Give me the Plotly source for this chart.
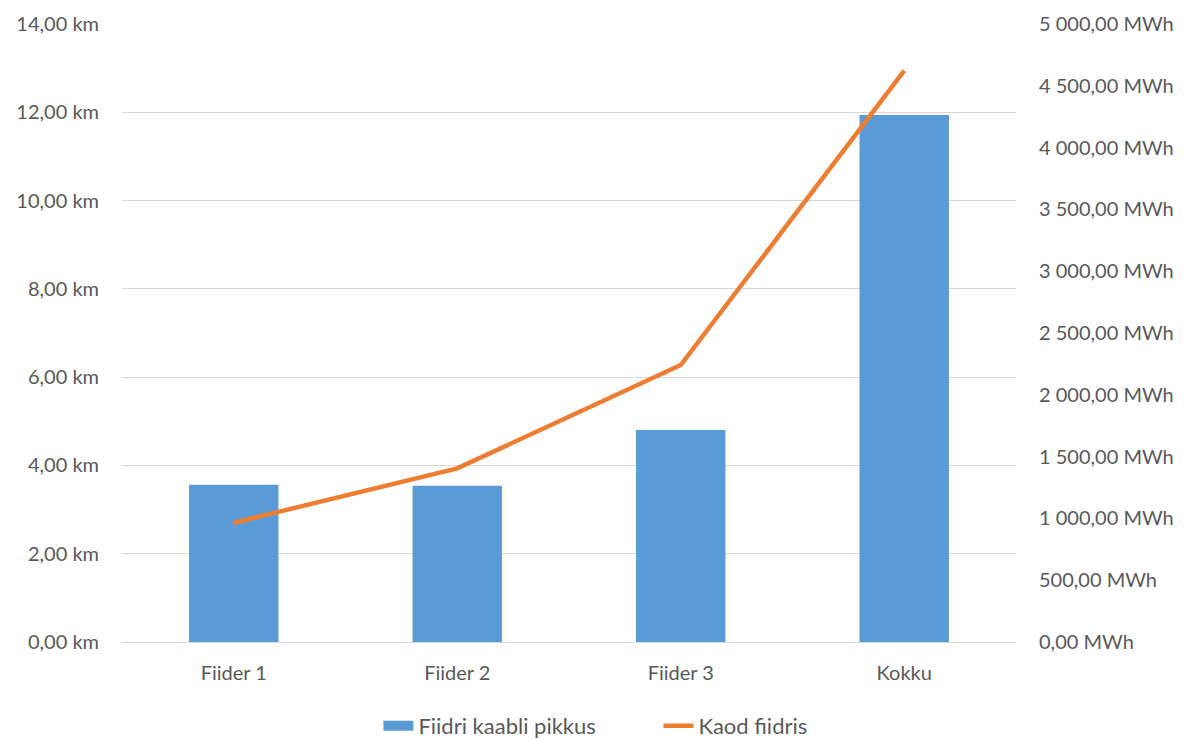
import plotly.graph_objects as go

categories = ["Fiider 1", "Fiider 2", "Fiider 3", "Kokku"]
cable_km = [3.56, 3.54, 4.80, 11.94]
losses_mwh = [965, 1405, 2241, 4622]

left_ticks = [0, 2, 4, 6, 8, 10, 12, 14]
left_labels = ["0,00 km", "2,00 km", "4,00 km", "6,00 km", "8,00 km", "10,00 km", "12,00 km", "14,00 km"]
right_ticks = [0, 500, 1000, 1500, 2000, 2500, 3000, 3500, 4000, 4500, 5000]
right_labels = ["0,00 MWh", "500,00 MWh", "1 000,00 MWh", "1 500,00 MWh", "2 000,00 MWh",
                "2 500,00 MWh", "3 000,00 MWh", "3 500,00 MWh", "4 000,00 MWh",
                "4 500,00 MWh", "5 000,00 MWh"]

font_family = "Lato, 'Open Sans', sans-serif"
gray = "#595959"
fs = 20

fig = go.Figure()
fig.add_trace(go.Bar(
    x=categories, y=cable_km, name="Fiidri kaabli pikkus",
    marker=dict(color="#5B9BD5", line=dict(width=0)),
    yaxis="y", showlegend=False,
))
# legend proxy (wide rectangle symbol as in the reference)
fig.add_trace(go.Scatter(
    x=[None], y=[None], name="Fiidri kaabli pikkus", mode="lines",
    line=dict(color="#5B9BD5", width=14), yaxis="y", hoverinfo="skip",
))
fig.add_trace(go.Scatter(
    x=categories, y=losses_mwh, name="Kaod fiidris", mode="lines",
    line=dict(color="#ED7D31", width=4.5),
    yaxis="y2",
))

fig.update_layout(
    width=1195, height=740,
    margin=dict(l=122, r=179, t=24, b=98, autoexpand=False),
    paper_bgcolor="white", plot_bgcolor="white",
    font=dict(family=font_family, size=fs, color=gray),
    bargap=0.6,
    showlegend=True,
    legend=dict(orientation="h", x=0.60, xanchor="center", y=-0.136, yanchor="middle",
                font=dict(size=22, color=gray), traceorder="normal",
                entrywidth=235, entrywidthmode="pixels"),
    xaxis=dict(showgrid=False, showline=False, ticks="", tickfont=dict(size=fs, color=gray),
               ticklabelstandoff=17),
    yaxis=dict(range=[0, 14], tickmode="array", tickvals=left_ticks, ticktext=left_labels,
               showgrid=True, gridcolor="#D9D9D9", gridwidth=1,
               zeroline=True, zerolinecolor="#D9D9D9", zerolinewidth=1,
               showline=False, ticks="", ticklabelstandoff=22,
               tickfont=dict(size=fs, color=gray)),
    yaxis2=dict(range=[0, 5000], tickmode="array", tickvals=right_ticks, ticktext=right_labels,
                overlaying="y", side="right", showgrid=False, zeroline=False,
                showline=False, ticks="", ticklabelstandoff=22,
                tickfont=dict(size=fs, color=gray)),
)

fig.write_html("out.html")
